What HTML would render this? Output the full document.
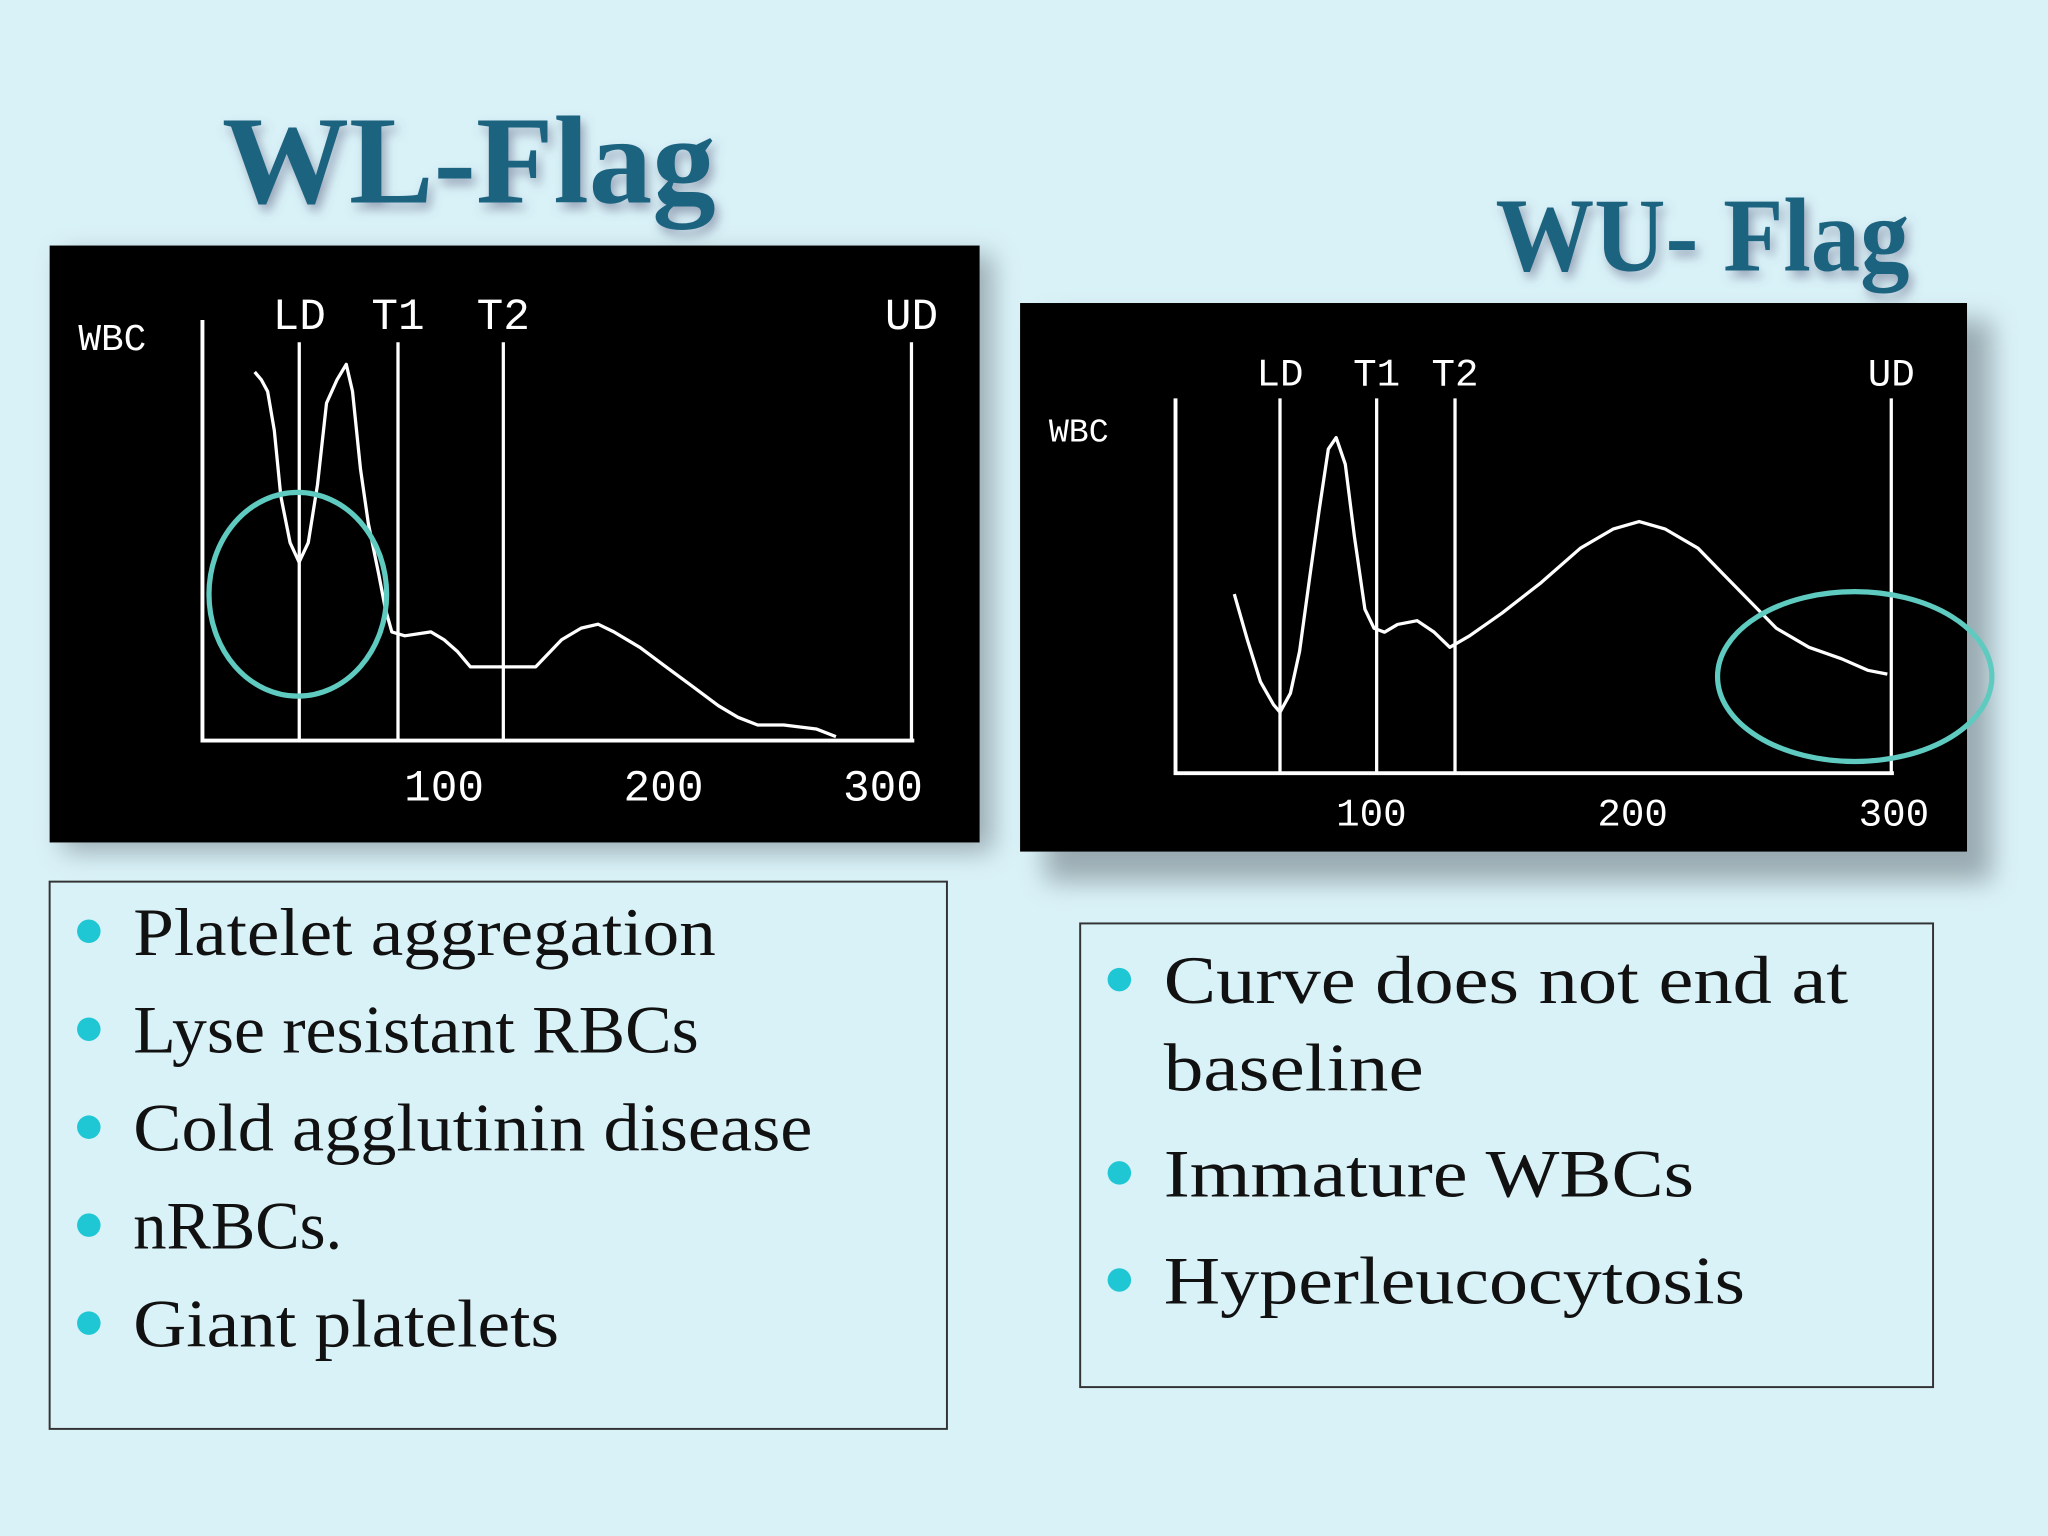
<!DOCTYPE html>
<html><head><meta charset="utf-8"><style>
html,body{margin:0;padding:0;background:#d9f2f8;}
svg{display:block}
</style></head><body>
<svg width="2048" height="1536" viewBox="0 0 1568 1176" preserveAspectRatio="none" xmlns="http://www.w3.org/2000/svg">
<defs>
<filter id="sh" x="-10%" y="-10%" width="130%" height="130%"><feGaussianBlur stdDeviation="10"/></filter>
<filter id="ts" x="-10%" y="-10%" width="120%" height="130%"><feDropShadow dx="3" dy="5" stdDeviation="4" flood-color="#557" flood-opacity="0.5"/></filter>
</defs>
<rect width="1568" height="1176" fill="#d9f2f8"/>
<text x="170" y="155" textLength="378" lengthAdjust="spacingAndGlyphs" font-family="Liberation Serif, serif" font-weight="bold" font-size="96" fill="#1c6480" filter="url(#ts)">WL-Flag</text>
<text x="1145" y="207" textLength="317" lengthAdjust="spacingAndGlyphs" font-family="Liberation Serif, serif" font-weight="bold" font-size="80" fill="#1c6480" filter="url(#ts)">WU- Flag</text>
<rect x="48" y="195" width="712" height="457" fill="#8a9aa0" filter="url(#sh)" opacity="0.8"/>
<rect x="38" y="188" width="712" height="457" fill="#000"/>
<rect x="800" y="245" width="725" height="430" fill="#8a9aa0" filter="url(#sh)" opacity="0.8"/>
<rect x="781" y="232" width="725" height="420" fill="#000"/>
<g id="chartL"></g>
<g id="chartR"></g>
<ellipse cx="228" cy="455" rx="68" ry="78" fill="none" stroke="#5fcac0" stroke-width="4"/>
<ellipse cx="1420" cy="518" rx="105" ry="65" fill="none" stroke="#5fcac0" stroke-width="4"/>
<rect x="38" y="675" width="687" height="419" fill="none" stroke="#333" stroke-width="1.5"/>
<rect x="827" y="707" width="653" height="355" fill="none" stroke="#333" stroke-width="1.5"/>
<g font-family="Liberation Serif, serif" font-size="52" fill="#111" lengthAdjust="spacingAndGlyphs">
<g>
<circle cx="68" cy="713" r="9" fill="#1fc7d4"/><text x="102" y="731" textLength="446" lengthAdjust="spacingAndGlyphs">Platelet aggregation</text>
<circle cx="68" cy="788" r="9" fill="#1fc7d4"/><text x="102" y="806" textLength="433" lengthAdjust="spacingAndGlyphs">Lyse resistant RBCs</text>
<circle cx="68" cy="863" r="9" fill="#1fc7d4"/><text x="102" y="881" textLength="520" lengthAdjust="spacingAndGlyphs">Cold agglutinin disease</text>
<circle cx="68" cy="938" r="9" fill="#1fc7d4"/><text x="102" y="956" textLength="160" lengthAdjust="spacingAndGlyphs">nRBCs.</text>
<circle cx="68" cy="1013" r="9" fill="#1fc7d4"/><text x="102" y="1031" textLength="326" lengthAdjust="spacingAndGlyphs">Giant platelets</text>
</g>
<g>
<circle cx="857" cy="750" r="9" fill="#1fc7d4"/><text x="891" y="768" textLength="524" lengthAdjust="spacingAndGlyphs">Curve does not end at</text>
<text x="891" y="835" textLength="199" lengthAdjust="spacingAndGlyphs">baseline</text>
<circle cx="857" cy="898" r="9" fill="#1fc7d4"/><text x="891" y="916" textLength="406" lengthAdjust="spacingAndGlyphs">Immature WBCs</text>
<circle cx="857" cy="980" r="9" fill="#1fc7d4"/><text x="891" y="998" textLength="445" lengthAdjust="spacingAndGlyphs">Hyperleucocytosis</text>
</g>
</g>
</svg>
<script>
const leftChannels=[13.7,16.7,19.6,22.6,25.6,29.8,33.9,38.1,42.3,46.4,51.2,55.4,58.3,61.9,65.5,70.2,73.2,76.2,82.1,94,100,106,112,126.8,141.7,153.6,162.5,170.2,177.4,189.3,201.2,213.1,225,233.9,242.9,254.8,269.6,278.6];
const leftCounts=[95,93,90,80,63,51,46,51,66,87,93,97,90,70,56,43,34,28,27,28,26,23,19,19,19,26,29,30,28,24,19,14,9,6,4,4,3,1];
const rightChannels=[47.5,52.5,57.5,62.5,65,69,72.5,76.5,80,83.5,86.5,90,93.5,97.5,101,105,110,117.5,124,130,137.5,150,165,180,192.5,202.5,212.5,225,235,245,255,267.5,280,290,297.5];
const rightCounts=[47,35,24,18,16,21,32,52,69,85,88,81,62,43,38,37,39,40,37,33,36,42,50,59,64,66,64,59,52,45,38,33,30,27,26];
const tickLabels=["100","200","300"];
const tickValues=[100,200,300];
const leftMarkers=[["LD",34],["T1",79],["T2",127],["UD",313]];
const rightMarkers=[["LD",65],["T1",102],["T2",132],["UD",299]];
const NS="http://www.w3.org/2000/svg";
function mk(p,tag,a){const e=document.createElementNS(NS,tag);for(const k in a)e.setAttribute(k,a[k]);p.appendChild(e);return e;}
function draw(g,cfg,chs,cnts,markers,prefix){
  const sx=c=>cfg.x0+c*cfg.kx, sy=v=>cfg.base-v*cfg.ky;
  const ax=mk(g,'path',{d:`M${cfg.axL},${cfg.axTop} V${cfg.base} H${cfg.axR}`,fill:'none',stroke:'#fff','stroke-width':3});
  
  
  markers.forEach(m=>{
    const l=mk(g,'line',{x1:sx(m[1]),x2:sx(m[1]),y1:cfg.mTop,y2:cfg.base,stroke:'#fff','stroke-width':2.5});
    
    
    const t=mk(g,'text',{x:sx(m[1]),y:cfg.lblY,'text-anchor':'middle',fill:'#fff','font-family':'Liberation Mono, monospace','font-size':cfg.fs});
    t.textContent=m[0];
    
    
  });
  const d=chs.map((c,i)=>(i?'L':'M')+sx(c).toFixed(1)+','+sy(cnts[i]).toFixed(1)).join(' ');
  const p=mk(g,'path',{d:d,fill:'none',stroke:'#fff','stroke-width':2.5,'stroke-linejoin':'round'});
  
  
  tickValues.forEach((v,i)=>{
    const t=mk(g,'text',{x:sx(v),y:cfg.tickY,'text-anchor':'middle',fill:'#fff','font-family':'Liberation Mono, monospace','font-size':cfg.fs});
    t.textContent=tickLabels[i];
    
    
  });
  const w=mk(g,'text',{x:cfg.wbcX,y:cfg.wbcY,fill:'#fff','font-family':'Liberation Mono, monospace','font-size':cfg.fs*0.85});
  w.textContent='WBC';
  
  
}
draw(document.getElementById('chartL'),{x0:172,kx:1.68,base:567,ky:2.97,axL:155,axR:700,axTop:245,mTop:262,lblY:252,tickY:613,fs:34,wbcX:60,wbcY:268},leftChannels,leftCounts,leftMarkers,'wl');
draw(document.getElementById('chartR'),{x0:850,kx:2,base:592,ky:2.92,axL:900,axR:1450,axTop:305,mTop:305,lblY:295,tickY:632,fs:30,wbcX:803,wbcY:338},rightChannels,rightCounts,rightMarkers,'wu');
</script>
</body></html>
